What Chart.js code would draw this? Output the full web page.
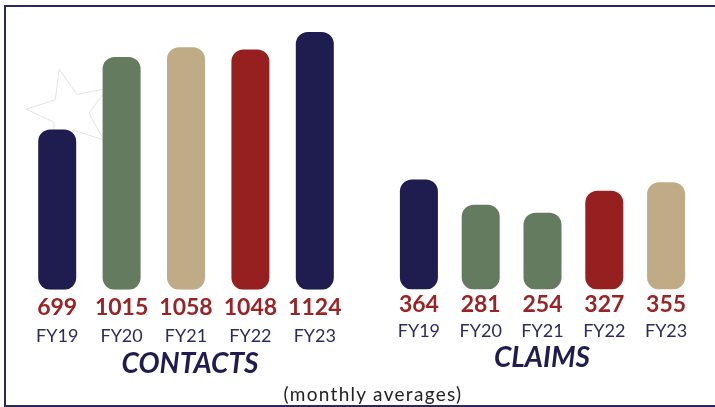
<!DOCTYPE html>
<html lang="en">
<head>
  <meta charset="UTF-8" />
  <title>Contacts and Claims</title>
  <script src="https://cdn.jsdelivr.net/npm/chart.js"></script>
  <style>
    body {
      margin: 0;
      background: #ffffff;
      font-family: Lato, sans-serif;
    }
    .frame {
      position: relative;
      width: 715px;
      height: 407px;
      overflow: hidden;
    }
    .border {
      position: absolute;
      left: 4px;
      top: 5px;
      width: 720px;
      height: 398px;
      border-top: 2px solid #2a2760;
      border-left: 2px solid #2a2760;
      border-bottom: 2px solid #2a2760;
    }
    .box {
      position: absolute;
      top: 0;
      height: 407px;
    }
    .group-title {
      position: absolute;
      font-weight: bold;
      font-style: italic;
      font-size: 28px;
      color: #1f1c4f;
      transform: translateX(-50%);
      white-space: nowrap;
    }
    .note {
      position: absolute;
      left: 373px;
      top: 382px;
      transform: translateX(-50%);
      font-size: 19px;
      letter-spacing: 1.3px;
      color: #222;
      white-space: nowrap;
    }
  </style>
</head>
<body>
<div class="frame">
  <div class="border"></div>
  <div class="box" style="left:0;width:360px"><canvas id="contactsChart"></canvas></div>
  <div class="box" style="left:360px;width:355px"><canvas id="claimsChart"></canvas></div>
  <div class="group-title" style="left:190px;top:345px">CONTACTS</div>
  <div class="group-title" style="left:542px;top:339px">CLAIMS</div>
  <div class="note">(monthly averages)</div>
</div>

<script>
  const years = ['FY19', 'FY20', 'FY21', 'FY22', 'FY23'];
  const contacts = [699, 1015, 1058, 1048, 1124];
  const claims = [364, 281, 254, 327, 355];

  const navy = '#1f1c4f';
  const green = '#657b5f';
  const tan = '#bfac86';
  const red = '#96201f';
  const contactColors = [navy, green, tan, red, navy];
  const claimColors = [navy, green, green, red, tan];

  // faint star outline behind the first contacts bars
  const starPlugin = {
    id: 'star',
    beforeDatasetsDraw(chart) {
      if (chart.canvas.id !== 'contactsChart') return;
      const ctx = chart.ctx;
      const cx = 70, cy = 112, outer = 44, inner = 19;
      const rot = -0.25;
      ctx.save();
      ctx.strokeStyle = '#e4e4e4';
      ctx.lineWidth = 1;
      ctx.beginPath();
      for (let i = 0; i < 10; i++) {
        const r = i % 2 === 0 ? outer : inner;
        const a = rot - Math.PI / 2 + i * Math.PI / 5;
        const px = cx + r * Math.cos(a);
        const py = cy + r * Math.sin(a);
        if (i === 0) ctx.moveTo(px, py); else ctx.lineTo(px, py);
      }
      ctx.closePath();
      ctx.stroke();
      ctx.restore();
    }
  };

  function makeChart(id, values, colors, yMax, pad, barPct, valLH, fyPad) {
    return new Chart(document.getElementById(id), {
      type: 'bar',
      data: {
        labels: years,
        datasets: [{
          data: values,
          backgroundColor: colors,
          borderWidth: 0,
          borderRadius: 12,
          borderSkipped: false,
          barPercentage: barPct,
          categoryPercentage: 1
        }]
      },
      options: {
        responsive: true,
        maintainAspectRatio: false,
        animation: false,
        layout: { padding: pad },
        plugins: {
          legend: { display: false },
          tooltip: { enabled: false }
        },
        scales: {
          y: { display: false, min: 0, max: yMax },
          x: {
            grid: { display: false, drawTicks: false },
            border: { display: false },
            ticks: {
              padding: 4,
              color: '#9a2326',
              font: { family: 'Lato', size: 23, weight: 'bold', lineHeight: valLH },
              callback: (v, i) => values[i]
            }
          },
          x2: {
            type: 'category',
            labels: years,
            position: 'bottom',
            grid: { display: false, drawTicks: false },
            border: { display: false },
            ticks: {
              padding: fyPad,
              color: '#2d2b5e',
              font: { family: 'Lato', size: 18 }
            }
          }
        }
      },
      plugins: [starPlugin]
    });
  }

  makeChart('contactsChart', contacts, contactColors, 1133,
    { left: 25, right: 13, top: 30, bottom: 60 }, 0.59, 1.2, 0);
  makeChart('claimsChart', claims, claimColors, 860,
    { left: 28, right: 18, top: 30, bottom: 65 }, 0.615, 1.0, 0);
</script>
</body>
</html>
